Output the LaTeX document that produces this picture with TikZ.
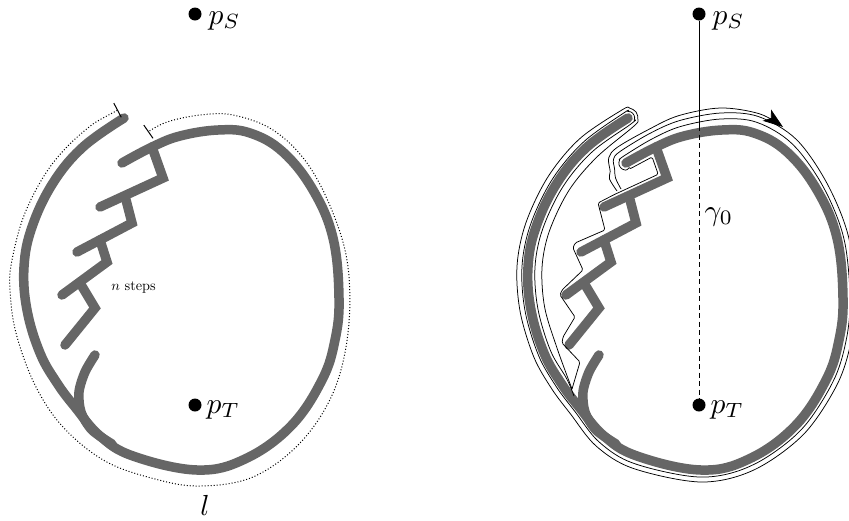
\documentclass[tikz,border=0pt]{standalone}
\usetikzlibrary{arrows.meta}
\tikzset{
  graystroke/.style={line width=9.5pt, draw=black!60, line cap=round, line join=round},
  zigstroke/.style={line width=9.5pt, draw=black!60, line cap=round, line join=miter},
  thinline/.style={line width=0.75pt, line join=round},
  dotnode/.style={circle, fill=black, inner sep=0pt, minimum size=13pt},
  lab/.style={inner sep=0pt, scale=2.95, anchor=base west},
  tickbar/.tip={Bar[width=16pt,line width=1pt]},
}
\newcommand{\drawgrayshape}{%
  \draw[graystroke] plot[smooth, tension=0.65] coordinates {(124,118) (83,147) (53,183) (32,227) (24,267) (27,310) (40,353) (57,383) (75,407) (100,436) (133,456) (197,470) (245,459) (291,426) (322,380) (335,340) (339,298) (333,238) (313,190) (283,152) (250,133) (218,130) (180,136) (152,147) (122,163)};
  \draw[zigstroke] (152,147) -- (163,178) -- (100,207);
  \draw[zigstroke] (125,196) -- (132,223) -- (77,252);
  \draw[zigstroke] (100,240) -- (107,262) -- (62,295);
  \draw[zigstroke] (80,283) -- (95,308) -- (65,345);
  \draw[graystroke] plot[smooth] coordinates {(95,355) (85,372) (79,392) (81,412) (92,430) (112,444)};
}
\begin{document}
\begin{tikzpicture}[x=1pt,y=-1pt]
\useasboundingbox (0,0) rectangle (849,520);
% ---------- left figure ----------
\begin{scope}
  \drawgrayshape
  \draw[dotted, line width=1pt, tickbar-tickbar]
    plot[smooth, tension=0.6] coordinates {(118,110) (83,132) (50,167) (25,213) (12,260) (10,290) (16,333) (35,385) (63,427) (105,461) (155,479) (200,486) (253,477) (300,443) (333,393) (348,333) (348,267) (333,213) (307,163) (273,130) (233,115) (200,115) (167,122) (148,132)};
  \node[dotnode] (pS) at (195,14) {};
  \node[lab] (lS) at (208,24) {$p_S$};
  \node[dotnode] (pT) at (195,405) {};
  \node[lab] (lT) at (206,413) {$p_T$};
  \node[inner sep=0pt, scale=2.9, anchor=base] (ll) at (205,515) {$l$};
  \node[inner sep=0pt, scale=1.43, anchor=base west] (ns) at (111,290) {$n$ steps};
\end{scope}
% ---------- right figure ----------
\begin{scope}[xshift=504pt]
  \drawgrayshape
  % inner traced curve
  \draw[thinline, rounded corners=1.5pt] (68,389) -- (76,362) -- (58,343) -- (59,337) -- (71,317) -- (56,295) -- (58,290) -- (79,270) -- (69,248) -- (71,243) -- (101,230) -- (94,203) -- (110,194.7) -- (154.2,174.3) -- (148.1,157) -- (125.3,169.2)
    -- plot[smooth, tension=0.55] coordinates {(125.3,169.2) (120,169.7) (115.8,166.3) (115.3,161) (118.7,156.8) (148.3,138.8) (177.3,126.3) (217.2,119) (252.9,122.4) (288.4,144.1) (319.1,186.6) (339.8,238.3) (346,298) (341.9,341.5) (328.3,383) (296,430.9) (247.8,465.4) (197,477) (130.8,463.7) (95.5,442.3) (70.3,410.7) (52,386.2) (34.5,355.3) (21.1,311.1) (18,266.6) (26.4,225) (48,179.8) (78.9,142.6) (120.2,112.7) (125.1,111.6) (129.3,114.2) (130.4,119.1) (127.8,123.3) (87.8,152.2) (58.9,186.8) (38.6,229.3) (31,267.4) (33.9,308.7) (46.4,350.3) (62.9,379.2) (70,396)};
  % middle traced curve
  \draw[thinline] plot[smooth, tension=0.55] coordinates {(117,189) (111.5,178) (110.6,169.1) (109.5,159.2) (115.9,151.6) (145.9,133.4) (175.8,120.5) (216.8,113) (254.6,116.6) (292.5,139.6) (323.4,184.1) (344.6,237.1) (351,298) (346.8,342.6) (332.8,385.2) (299.5,434.4) (249.8,470) (197,482) (129.2,468.4) (92.2,446.1) (66.4,413.8) (47.8,388.9) (29.9,357.2) (16.2,312) (13,266.3) (21.7,223.4) (43.8,177.1) (75.5,138.9) (118.2,109.8) (125.7,108.1) (132.2,112.2) (133.9,119.7) (129.8,126.2) (92.5,157.4) (64.8,190.6) (45.2,231.6) (38,267.8) (40.7,307.5) (52.9,347.7) (68,389)};
  % outer curve with arrow
  \draw[thinline, -{Stealth[length=20pt,width=14pt,inset=5pt]}] plot[smooth, tension=0.55] coordinates {(113,191) (105.5,179) (106.2,171.5) (104.7,157.8) (113.5,147.2) (144.2,129.7) (174.5,115.7) (216.5,108) (255.5,113.8) (279,127)};
  \node[dotnode] (rpS) at (195,14) {};
  \node[lab] (rlS) at (208,24) {$p_S$};
  \node[dotnode] (rpT) at (195,405) {};
  \node[lab] (rlT) at (206,413) {$p_T$};
  \coordinate (cut) at (195,126);
  \draw[line width=0.8pt] (rpS) -- (cut);
  \draw[line width=0.8pt, dash pattern=on 5pt off 3.5pt] (cut) -- (rpT);
  \node[lab] (g0) at (200,220.5) {$\gamma_0$};
\end{scope}
\end{tikzpicture}
\end{document}
